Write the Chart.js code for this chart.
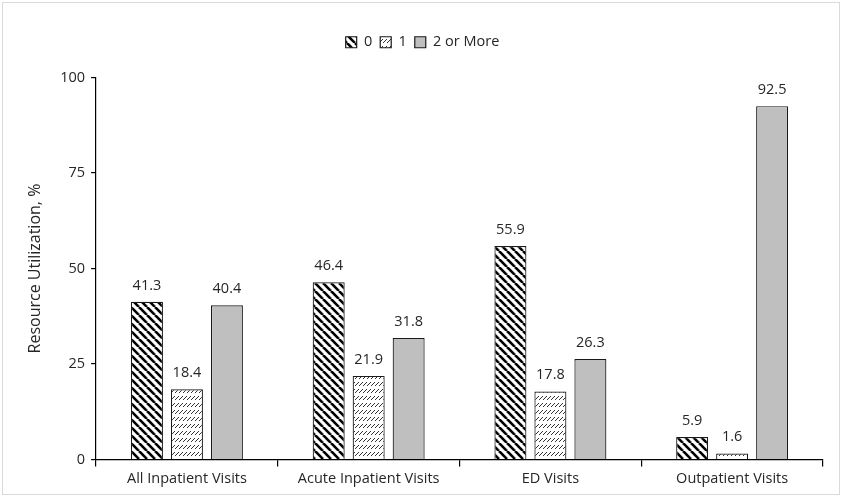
<!DOCTYPE html>
<html>
<head>
<meta charset="utf-8">
<script src="https://cdn.jsdelivr.net/npm/chart.js@4"></script>
<style>
  html, body { margin: 0; padding: 0; background: #fff; }
  #wrap { position: absolute; left: 2px; top: 2px; width: 836px; height: 491px; border: 1px solid #d9d9d9; }
</style>
</head>
<body>
<div id="wrap"><canvas id="chart"></canvas></div>
<script>
const categories = ["All Inpatient Visits", "Acute Inpatient Visits", "ED Visits", "Outpatient Visits"];
const seriesNames = ["0", "1", "2 or More"];
const zeroValues = [41.3, 46.4, 55.9, 5.9];
const oneValues = [18.4, 21.9, 17.8, 1.6];
const twoPlusValues = [40.4, 31.8, 26.3, 92.5];
const yTicks = [0, 25, 50, 75, 100];

const fontFamily = "'Open Sans', 'Noto Sans', sans-serif";
const textColor = "#262626";

function stripePattern() {
  const c = document.createElement("canvas");
  c.width = 8;
  c.height = 8;
  const g = c.getContext("2d");
  g.fillStyle = "#fff";
  g.fillRect(0, 0, 8, 8);
  g.strokeStyle = "#000";
  g.lineWidth = 2.6;
  for (let k = -8; k <= 16; k += 8) {
    g.beginPath();
    g.moveTo(k, 0);
    g.lineTo(k + 8, 8);
    g.stroke();
  }
  return g.createPattern(c, "repeat");
}

function dashPattern() {
  const c = document.createElement("canvas");
  c.width = 4;
  c.height = 7;
  const g = c.getContext("2d");
  g.fillStyle = "#fff";
  g.fillRect(0, 0, 4, 7);
  g.strokeStyle = "#333";
  g.lineWidth = 1;
  g.beginPath();
  g.moveTo(0, 5);
  g.lineTo(4, 1);
  g.stroke();
  return g.createPattern(c, "repeat");
}

const valueLabels = {
  id: "valueLabels",
  afterDatasetsDraw(chart) {
    const ctx = chart.ctx;
    ctx.save();
    ctx.font = "14.5px " + fontFamily;
    ctx.fillStyle = textColor;
    ctx.textAlign = "center";
    ctx.textBaseline = "bottom";
    chart.data.datasets.forEach((ds, i) => {
      chart.getDatasetMeta(i).data.forEach((bar, j) => {
        ctx.fillText(ds.data[j].toFixed(1), bar.x, bar.y - 9);
      });
    });
    ctx.restore();
  },
};

// extra room under the legend
const legendGap = {
  id: "legendGap",
  beforeInit(chart) {
    const fit = chart.legend.fit;
    chart.legend.fit = function () {
      fit.call(this);
      this.height += 18;
    };
  },
};

const common = { borderColor: "#1a1a1a", borderWidth: 1.2, barPercentage: 0.8, categoryPercentage: 0.66 };

new Chart(document.getElementById("chart"), {
  type: "bar",
  data: {
    labels: categories,
    datasets: [
      { label: seriesNames[0], data: zeroValues, backgroundColor: stripePattern(), ...common },
      { label: seriesNames[1], data: oneValues, backgroundColor: dashPattern(), ...common },
      { label: seriesNames[2], data: twoPlusValues, backgroundColor: "#bfbfbf", ...common },
    ],
  },
  options: {
    responsive: true,
    maintainAspectRatio: false,
    animation: false,
    layout: { padding: { top: 24, right: 16, left: 19, bottom: 2 } },
    plugins: {
      legend: {
        position: "top",
        labels: {
          color: textColor,
          font: { family: fontFamily, size: 14.5 },
          boxWidth: 11,
          boxHeight: 11,
          padding: 8,
        },
      },
      tooltip: { enabled: false },
    },
    scales: {
      y: {
        min: 0,
        max: 100,
        afterBuildTicks(axis) {
          axis.ticks = yTicks.map((v) => ({ value: v }));
        },
        border: { color: "#000", width: 1.2 },
        grid: { drawOnChartArea: false, color: "#000", tickLength: 5, lineWidth: 1.2 },
        ticks: { color: textColor, font: { family: fontFamily, size: 14.5 }, padding: 6 },
        title: {
          display: true,
          text: "Resource Utilization, %",
          color: textColor,
          font: { family: fontFamily, size: 16 },
          padding: { bottom: 9 },
        },
      },
      x: {
        border: { color: "#000", width: 1.2 },
        grid: { drawOnChartArea: false, color: "#000", tickLength: 7, lineWidth: 1.2, offset: true },
        ticks: { color: textColor, font: { family: fontFamily, size: 14.5 }, padding: 4 },
      },
    },
  },
  plugins: [valueLabels, legendGap],
});
</script>
</body>
</html>
